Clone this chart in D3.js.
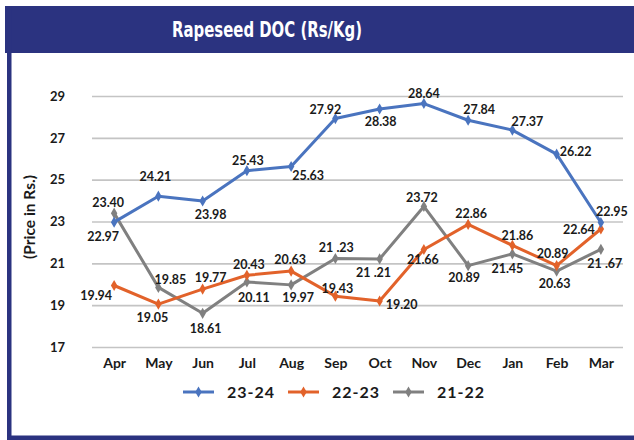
<!DOCTYPE html>
<html><head><meta charset="utf-8">
<script src="https://cdn.jsdelivr.net/npm/d3@7"></script>
<style>
html,body{margin:0;padding:0;background:#fff;}
svg{display:block;}
text{font-family:Lato,"Liberation Sans",Arial,sans-serif;font-weight:700;fill:#1a1a1a;}
</style></head>
<body>
<script>
const months = ["Apr","May","Jun","Jul","Aug","Sep","Oct","Nov","Dec","Jan","Feb","Mar"];
const s2324 = [22.97,24.21,23.98,25.43,25.63,27.92,28.38,28.64,27.84,27.37,26.22,22.95];
const s2223 = [19.94,19.05,19.77,20.43,20.63,19.43,19.20,21.66,22.86,21.86,20.89,22.64];
const s2122 = [23.40,19.85,18.61,20.11,19.97,21.23,21.21,23.72,20.89,21.45,20.63,21.67];
const yTicks = [17,19,21,23,25,27,29];
const seriesNames = ["23-24","22-23","21-22"];

// label offsets [dx, dy] relative to point (layout only)
const off2324 = [[-11,14],[-3,-20],[8,14],[1,-10],[17,9],[-10,-9],[1,13],[0,-10],[11,-11],[15,-8],[19,-3],[11,-11]];
const off2223 = [[-18,10],[-6,14],[8,-11],[2,-11],[-1,-11],[2,-8],[22,4],[-1,10],[3,-11],[5,-10],[-4,-12],[-22,1]];
const off2122 = [[-6,-11],[12,-8],[3,15],[7,16],[7,13],[1,-11],[-6,14],[-2,-9],[-4,12],[-5,15],[-2,13],[4,14]];

const W=634,H=440;
const svg=d3.select("body").append("svg").attr("width",W).attr("height",H);
const navy="#2b3380";
// frame
svg.append("rect").attr("x",5).attr("y",6).attr("width",W-5).attr("height",47).attr("fill",navy);
svg.append("rect").attr("x",7).attr("y",6).attr("width",4.5).attr("height",434).attr("fill",navy);
svg.append("rect").attr("x",7).attr("y",435.5).attr("width",W-7).attr("height",5).attr("fill",navy);
svg.append("text").attr("x",267).attr("y",37).attr("text-anchor","middle")
  .attr("font-size",22).attr("textLength",190).attr("lengthAdjust","spacingAndGlyphs")
  .style("fill","#fff").style("font-family","'DejaVu Sans Condensed','DejaVu Sans',sans-serif").style("font-weight","bold")
  .text("Rapeseed DOC  (Rs/Kg)");

const x=d3.scalePoint().domain(months).range([92,623]).padding(0.5);
const y=d3.scaleLinear().domain([17,29]).range([347,96]);

// gridlines
const grid=d3.axisLeft(y).tickValues(yTicks).tickSize(-(623-92)).tickFormat("");
svg.append("g").attr("transform","translate(92,0)").call(grid)
  .call(g=>g.select(".domain").remove())
  .call(g=>g.selectAll("line").attr("stroke","#c4c4c4").attr("stroke-width",1.6));

// y tick labels
const ya=d3.axisLeft(y).tickValues(yTicks).tickSize(0).tickPadding(0);
svg.append("g").attr("transform","translate(65,0)").call(ya)
  .call(g=>g.select(".domain").remove())
  .call(g=>g.selectAll("text").attr("font-size",13).style("font-family","Lato,sans-serif").attr("font-weight",700).attr("fill","#1a1a1a"));

// x labels
const xa=d3.axisBottom(x).tickSize(0).tickPadding(0);
svg.append("g").attr("transform","translate(0,358)").call(xa)
  .call(g=>g.select(".domain").remove())
  .call(g=>g.selectAll("text").attr("font-size",14).style("font-family","Lato,sans-serif").attr("font-weight",700).attr("fill","#1a1a1a"));

// y title
svg.append("text").attr("transform","translate(35,217) rotate(-90)").attr("text-anchor","middle")
  .attr("font-size",15.5).text("(Price in Rs.)");

const colors=["#4a74bf","#e2622a","#808080"];
const data=[s2324,s2223,s2122];
const offs=[off2324,off2223,off2122];
const line=d3.line().x((d,i)=>x(months[i])).y(d=>y(d));
const order=[2,1,0];
order.forEach(k=>{
  svg.append("path").datum(data[k]).attr("d",line).attr("fill","none")
    .attr("stroke",colors[k]).attr("stroke-width",3).attr("stroke-linejoin","round");
  svg.append("g").selectAll("path").data(data[k]).join("path")
    .attr("d",d3.symbol(d3.symbolDiamond,36))
    .attr("transform",(d,i)=>`translate(${x(months[i])},${y(d)})`)
    .attr("fill",colors[k]);
});
order.forEach(k=>{
  svg.append("g").selectAll("text").data(data[k]).join("text")
    .attr("x",(d,i)=>x(months[i])+offs[k][i][0])
    .attr("y",(d,i)=>y(d)+offs[k][i][1])
    .attr("dy","0.35em").attr("text-anchor","middle").attr("font-size",12.5)
    .text((d,i)=>(k===2 && (i===5||i===6||i===11)) ? d.toFixed(2).replace(".", " .") : d.toFixed(2));
});

// legend
const legX=[183,288,393];
seriesNames.forEach((n,k)=>{
  const g=svg.append("g").attr("transform",`translate(${legX[k]},392)`);
  g.append("line").attr("x1",0).attr("x2",31).attr("stroke",colors[k]).attr("stroke-width",3);
  g.append("path").attr("d",d3.symbol(d3.symbolDiamond,36)).attr("transform","translate(15.5,0)").attr("fill",colors[k]);
  g.append("text").attr("x",44).attr("dy","0.35em").attr("font-size",16).attr("letter-spacing",1).text(n);
});
</script>
</body></html>
